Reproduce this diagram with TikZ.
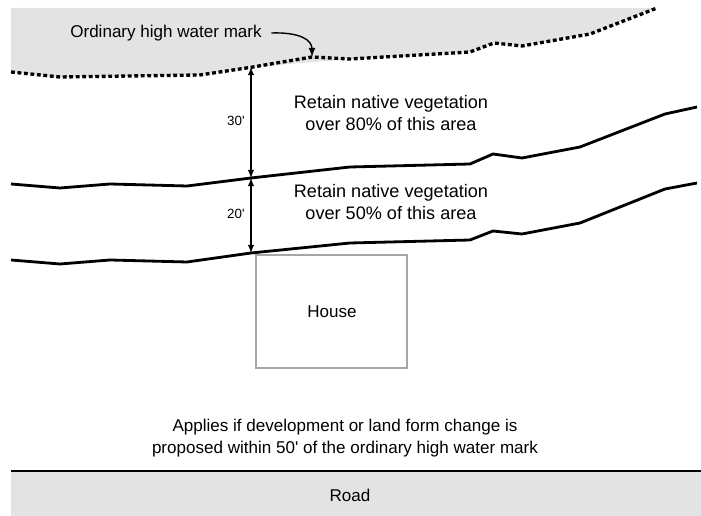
\documentclass[tikz,border=0pt]{standalone}
\usepackage{fontspec}
\setmainfont{Liberation Sans}[Ligatures=TeXOff]
\begin{document}
\begin{tikzpicture}[x=0.02cm,y=-0.02cm,
	txt/.style={font=\fontsize{9.7}{12.5}\selectfont,align=center},
	dim/.style={font=\fontsize{7.6}{9}\selectfont},
	bound/.style={line width=1.6pt,line join=round},
	hwmark/.style={line width=1.9pt,dash pattern=on 2.2pt off 1.5pt},
	meas/.style={line width=0.6pt,latex-latex}]
		\useasboundingbox (0,0) rectangle (701,516);
		
		% water
		\fill[gray!22] (11,8) -- (657,8) -- (590,34) -- (522,46) -- (494,43)
		-- (470,52) -- (350,59) -- (253,67) -- (200,75) -- (60,77) -- (11,72) -- cycle;
		\draw[hwmark] (11,72) -- (60,77) -- (200,75) -- (253,67) coordinate (m30)
		-- (312,57) coordinate (mtip) -- (350,59) -- (470,52) -- (494,43) -- (522,46)
		-- (590,34) -- (657,8);
		
		% setback lines
		\draw[bound] (11,184) -- (60,188) -- (110,184) -- (187,186) -- (251,178) coordinate (m20)
		-- (350,167) -- (470,164) -- (493,154) -- (522,158) -- (580,147) -- (665,114) -- (697,107);
		\draw[bound] (11,260) -- (60,264) -- (110,260) -- (187,262) -- (251,253) coordinate (m0)
		-- (350,243) -- (470,240) -- (493,231) -- (522,234) -- (580,223) -- (665,189) -- (697,183);
		
		% widths
		\draw[meas] (251,67) -- (m20) node[midway,left,dim,yshift=1pt]{30'};
		\draw[meas] (m20) -- (m0) node[midway,left,dim,yshift=1pt]{20'};
		
		% labels
		\node[txt] (ohw) at (166,33) {Ordinary high water mark};
		\draw[line width=0.8pt,-latex] (ohw.east) ++(2pt,0) coordinate (c0)
		.. controls (300,32) and (312,40) .. (mtip);
		\node[txt,font=\fontsize{10.3}{12.5}\selectfont] (veg80) at (391,113) {Retain native vegetation\\over 80\% of this area};
		\node[txt,font=\fontsize{10.3}{12.5}\selectfont] (veg50) at (391,202) {Retain native vegetation\\over 50\% of this area};
		
		% house
		\draw[gray!70,line width=0.8pt] (256,255) rectangle (407,368);
		\node[txt] (house) at (332,312) {House};
		
		\node[txt] (note) at (345,438) {Applies if development or land form change is\\proposed within 50' of the ordinary high water mark};
		
		% road
		\fill[gray!22] (11,471) rectangle (701,516);
		\draw[line width=1pt] (11,471) -- (701,471);
		\node[txt] (road) at (350,495) {Road};
	\end{tikzpicture}
\end{document}
